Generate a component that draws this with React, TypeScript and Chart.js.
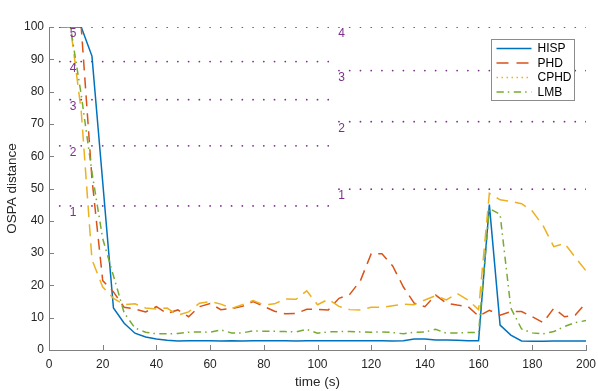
import React, { useEffect, useRef } from "react";
import { Chart, registerables } from "chart.js";
Chart.register(...registerables);

// Time steps (s)
const times = [
  4, 8, 12, 16, 20, 24, 28, 32, 36, 40, 44, 48, 52, 56, 60, 64, 68, 72, 76, 80,
  84, 88, 92, 96, 100, 104, 108, 112, 116, 120, 124, 128, 132, 136, 140, 144,
  148, 152, 156, 160, 164, 168, 172, 176, 180, 184, 188, 192, 196, 200,
];

const hisp = [
  100, 100, 100, 91, 52, 13, 8.3, 5.2, 4, 3.4, 3, 2.8, 2.9, 2.9, 2.9, 2.8, 2.9,
  2.8, 2.9, 2.9, 2.9, 2.9, 2.8, 2.9, 2.9, 2.9, 2.9, 2.9, 2.9, 2.9, 2.9, 2.8,
  2.9, 3.4, 3.4, 3.1, 3.1, 3.0, 2.9, 2.9, 45, 7.7, 4.6, 2.8, 2.7, 2.7, 2.8, 2.8,
  2.8, 2.8,
];

const phd = [
  100, 100, 100, 53, 21.5, 18, 13.2, 12.7, 11.8, 13.4, 11.3, 12.4, 10.3, 13.4,
  14.4, 12.5, 12.8, 13.5, 15, 13.5, 12, 11.2, 11.3, 12.6, 12.6, 12.4, 16, 17.2,
  21.5, 29.8, 29.8, 26, 19.5, 14.5, 13.4, 17, 14.5, 13.9, 13.5, 10.5, 12.3,
  10.8, 11.9, 11.9, 10.3, 8.5, 12.9, 10.3, 10.8, 14.6,
];

const cphd = [
  100, 100, 74, 28, 19.5, 16, 14, 14.3, 13, 12.7, 13, 10.8, 11.8, 14.5, 15,
  14.2, 12.9, 14, 15.3, 14, 14.3, 15.8, 15.7, 18.3, 14, 15.7, 13.5, 12.5, 12.4,
  13.2, 13.2, 13.7, 14.2, 14, 15.5, 16.8, 15.5, 17.5, 15.5, 12.5, 48.5, 46.5,
  46, 45.3, 43, 38.5, 32, 33, 28.7, 24.5,
];

const lmb = [
  100, 100, 79, 55, 34.5, 23, 11.5, 6.8, 5.5, 5, 5, 5.1, 5.5, 5.6, 5.5, 6.2,
  5.3, 5.3, 5.9, 5.8, 5.8, 5.7, 5.6, 6.4, 5.2, 5.6, 5.7, 5.7, 5.6, 5.5, 5.6,
  5.4, 5, 5.5, 5.6, 6.4, 5.2, 5.3, 5.4, 5.4, 43.8, 42, 13, 6.5, 5.3, 5, 5.7,
  7.3, 8.5, 9.1,
];

// Cardinality marker rows
const markerTimesLeft = [
  4, 8, 12, 16, 20, 24, 28, 32, 36, 40, 44, 48, 52, 56, 60, 64, 68, 72, 76, 80,
  84, 88, 92, 96, 100, 104,
];
const markerTimesRight = [
  108, 112, 116, 120, 124, 128, 132, 136, 140, 144, 148, 152, 156, 160, 164,
  168, 172, 176, 180, 184, 188, 192, 196, 200,
];
const leftLevels = [44.6, 63.2, 77.5, 89.3, 100];
const leftLabels = ["1", "2", "3", "4", "5"];
const rightLevels = [49.8, 70.7, 86.5, 100];
const rightLabels = ["1", "2", "3", "4"];
const leftLabelX = 9;
const rightLabelX = 109;

const xTicksMin = 0;
const xTicksMax = 200;
const xStep = 20;
const yTicksMin = 0;
const yTicksMax = 100;
const yStep = 10;

const BLUE = "#0072BD";
const ORANGE = "#D95319";
const YELLOW = "#EDB120";
const GREEN = "#77AC30";
const PURPLE = "#7E2F8E";
const TEXT = "#262626";
const AXIS = "#808080";
const FONT = '"Liberation Sans", Arial, Helvetica, sans-serif';

const legendItems = [
  { label: "HISP", color: BLUE, dash: [] as number[] },
  { label: "PHD", color: ORANGE, dash: [12, 8] },
  { label: "CPHD", color: YELLOW, dash: [1.5, 3.5] },
  { label: "LMB", color: GREEN, dash: [7.3, 4, 1.5, 4.5] },
];

export default function App() {
  const ref = useRef<HTMLCanvasElement>(null);

  useEffect(() => {
    document.body.style.margin = "0";
    const canvas = ref.current!;
    const pts = (arr: number[]) => times.map((t, i) => ({ x: t, y: arr[i] }));
    const row = (ts: number[], level: number) => ts.map((t) => ({ x: t, y: level }));

    const lineDs = (label: string, data: number[], color: string, dash: number[], order: number) => ({
      label,
      data: pts(data),
      borderColor: color,
      backgroundColor: color,
      borderWidth: 1.5,
      borderDash: dash,
      pointRadius: 0,
      tension: 0,
      fill: false,
      order,
    });

    const markerDs = (ts: number[], level: number) => ({
      label: "_marker",
      data: row(ts, level),
      showLine: false,
      pointRadius: 0.9,
      pointBorderWidth: 0,
      pointBackgroundColor: PURPLE,
      borderColor: PURPLE,
      backgroundColor: PURPLE,
      order: 0,
    });

    const decor = {
      id: "decor",
      afterDraw(chart: any) {
        const { ctx, chartArea } = chart;
        const xs = chart.scales.x;
        const ys = chart.scales.y;
        ctx.save();
        // inward ticks
        ctx.strokeStyle = AXIS;
        ctx.lineWidth = 1;
        ctx.setLineDash([]);
        ctx.beginPath();
        for (let v = xTicksMin; v <= xTicksMax; v += xStep) {
          const px = Math.round(xs.getPixelForValue(v)) + 0.5;
          ctx.moveTo(px, chartArea.bottom);
          ctx.lineTo(px, chartArea.bottom - 5);
        }
        for (let v = yTicksMin; v <= yTicksMax; v += yStep) {
          const py = Math.round(ys.getPixelForValue(v)) + 0.5;
          ctx.moveTo(chartArea.left, py);
          ctx.lineTo(chartArea.left + 5, py);
        }
        ctx.stroke();

        // marker labels
        ctx.fillStyle = PURPLE;
        ctx.font = `12px ${FONT}`;
        ctx.textAlign = "center";
        ctx.textBaseline = "middle";
        leftLevels.forEach((lv, i) => {
          ctx.fillText(leftLabels[i], xs.getPixelForValue(leftLabelX), ys.getPixelForValue(lv) + 7);
        });
        rightLevels.forEach((lv, i) => {
          ctx.fillText(rightLabels[i], xs.getPixelForValue(rightLabelX), ys.getPixelForValue(lv) + 7);
        });

        // legend box
        const bx = Math.round(chartArea.right - 95) + 0.5;
        const by = Math.round(chartArea.top + 12) + 0.5;
        const bw = 83;
        const bh = 61;
        ctx.fillStyle = "#ffffff";
        ctx.fillRect(bx, by, bw, bh);
        ctx.strokeStyle = "#8c8c8c";
        ctx.lineWidth = 1;
        ctx.strokeRect(bx, by, bw, bh);
        ctx.font = `12px ${FONT}`;
        ctx.textAlign = "left";
        ctx.textBaseline = "middle";
        legendItems.forEach((it, i) => {
          const yy = by + 9 + i * 14.5;
          ctx.strokeStyle = it.color;
          ctx.lineWidth = 1.5;
          ctx.setLineDash(it.dash);
          ctx.beginPath();
          ctx.moveTo(bx + 5, yy);
          ctx.lineTo(bx + 40, yy);
          ctx.stroke();
          ctx.setLineDash([]);
          ctx.fillStyle = "#000000";
          ctx.fillText(it.label, bx + 46, yy + 0.5);
        });
        ctx.restore();
      },
    };

    const datasets: any[] = [
      lineDs("HISP", hisp, BLUE, [], 4),
      lineDs("PHD", phd, ORANGE, [11, 7], 3),
      lineDs("CPHD", cphd, YELLOW, [12, 7], 2),
      lineDs("LMB", lmb, GREEN, [7.3, 4, 1.5, 4.5], 1),
      ...leftLevels.map((lv) => markerDs(markerTimesLeft, lv)),
      ...rightLevels.map((lv) => markerDs(markerTimesRight, lv)),
    ];

    const chart = new Chart(canvas, {
      type: "line",
      data: { datasets },
      plugins: [decor],
      options: {
        responsive: false,
        animation: false,
        devicePixelRatio: 1,
        layout: { padding: { top: 27, right: 12, left: 0, bottom: 0 } },
        plugins: {
          legend: { display: false },
          tooltip: { enabled: false },
        },
        scales: {
          x: {
            type: "linear",
            min: xTicksMin,
            max: xTicksMax,
            afterFit: (s: any) => {
              s.height = 41;
              s.paddingLeft = 0;
              s.paddingRight = 0;
            },
            ticks: {
              stepSize: xStep,
              autoSkip: false,
              maxRotation: 0,
              padding: 7,
              color: TEXT,
              font: { family: FONT, size: 12 },
            },
            grid: { display: false, drawTicks: false, tickLength: 0 },
            border: { display: true, color: AXIS, width: 1 },
            title: {
              display: true,
              text: "time (s)",
              color: TEXT,
              font: { family: FONT, size: 13.5 },
              padding: { top: 0, bottom: 1 },
            },
          },
          y: {
            type: "linear",
            min: yTicksMin,
            max: yTicksMax,
            afterFit: (s: any) => {
              s.width = 49;
              s.paddingTop = 0;
              s.paddingBottom = 0;
            },
            ticks: {
              stepSize: yStep,
              autoSkip: false,
              padding: 5,
              color: TEXT,
              font: { family: FONT, size: 12 },
            },
            grid: { display: false, drawTicks: false, tickLength: 0 },
            border: { display: true, color: AXIS, width: 1 },
            title: {
              display: true,
              text: "OSPA distance",
              color: TEXT,
              font: { family: FONT, size: 13.5 },
              padding: { top: 4, bottom: 0 },
            },
          },
        },
      } as any,
    });
    return () => chart.destroy();
  }, []);

  return (
    <div style={{ width: 598, height: 391 }}>
      <canvas ref={ref} width={598} height={391} style={{ display: "block" }} />
    </div>
  );
}
